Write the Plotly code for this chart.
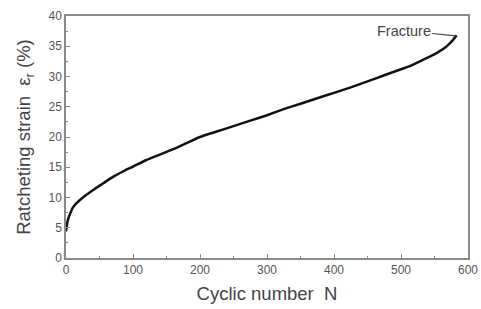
import plotly.graph_objects as go

cycles = [0, 1, 2, 4, 6, 10, 15, 20, 30, 40, 55, 70, 85, 100, 120, 140, 160, 180, 200, 225, 250, 275, 300, 325, 350, 375, 400, 425, 450, 475, 500, 515, 530, 545, 555, 565, 572, 578, 583]
strain = [4.4, 5.2, 5.9, 6.7, 7.3, 8.3, 9.0, 9.5, 10.4, 11.2, 12.3, 13.4, 14.3, 15.1, 16.2, 17.1, 18.0, 19.0, 20.0, 20.9, 21.8, 22.7, 23.6, 24.6, 25.5, 26.4, 27.3, 28.2, 29.2, 30.2, 31.2, 31.8, 32.6, 33.4, 34.0, 34.7, 35.4, 36.1, 36.8]

x_ticks = [0, 100, 200, 300, 400, 500, 600]
y_ticks = [0, 5, 10, 15, 20, 25, 30, 35, 40]

FONT = "Liberation Sans, Arial"

fig = go.Figure()
fig.add_trace(go.Scatter(x=cycles, y=strain, mode="lines",
                         line=dict(color="#111111", width=2.5, shape="spline", smoothing=0.5),
                         showlegend=False))

fig.add_annotation(x=582, y=36.7, ax=504, ay=37.6, axref="x", ayref="y",
                   xref="x", yref="y", text="Fracture", showarrow=True,
                   arrowhead=0, arrowwidth=1.2, arrowcolor="#444444", standoff=0,
                   font=dict(family=FONT, size=14.5, color="#444444"))

axis_common = dict(showline=True, linecolor="#8a8a8a", linewidth=1.5, mirror=True,
                   ticks="inside", ticklen=4, tickcolor="#8a8a8a", showgrid=False,
                   zeroline=False, automargin=False,
                   tickfont=dict(family=FONT, size=12, color="#555555"))

fig.update_xaxes(range=[0, 600], tickvals=x_ticks, ticktext=[str(v) for v in x_ticks],
                 minor=dict(ticks="inside", ticklen=2, tickcolor="#8a8a8a", dtick=50),
                 title=dict(text="Cyclic number  N", standoff=11,
                            font=dict(family=FONT, size=18.5, color="#444444")),
                 **axis_common)
fig.update_yaxes(range=[0, 40], tickvals=y_ticks, ticktext=[str(v) for v in y_ticks],
                 minor=dict(ticks="inside", ticklen=2, tickcolor="#8a8a8a", dtick=2.5),
                 title=dict(text="Ratcheting strain  ε<sub>r</sub> (%)", standoff=13,
                            font=dict(family=FONT, size=18.5, color="#444444")),
                 **axis_common)

fig.update_layout(width=481, height=309, margin=dict(l=66, r=13, t=16, b=51),
                  paper_bgcolor="white", plot_bgcolor="white")

fig.write_html("out.html", config={"displayModeBar": False},
               post_script="document.body.style.margin='0';document.body.style.overflow='hidden';")
